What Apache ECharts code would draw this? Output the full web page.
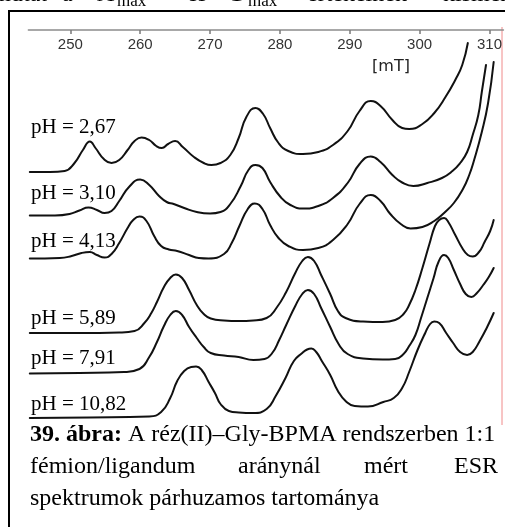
<!DOCTYPE html>
<html><head><meta charset="utf-8">
<script src="https://cdn.jsdelivr.net/npm/echarts@6/dist/echarts.min.js"></script>
<style>html,body{margin:0;padding:0;background:#fff}#c{width:505px;height:527px}</style>
</head><body><div id="c"></div>
<script>
// ---- data (magnetic field in mT, relative ESR intensity in arbitrary units) ----
const tickValues = [250, 260, 270, 280, 290, 300, 310];
const phLabels = ['pH = 2,67', 'pH = 3,10', 'pH = 4,13', 'pH = 5,89', 'pH = 7,91', 'pH = 10,82'];
const offsets = [355, 311.5, 268.5, 194, 153.5, 109];

const field267 = [244.2,247.1,249.2,250.6,251.8,252.8,253.6,254.8,255.9,257.0,258.2,259.2,260.2,261.3,262.3,263.1,264.0,265.0,266.1,267.7,269.1,270.2,271.5,272.9,274.1,275.2,276.5,277.6,278.6,279.8,281.2,283.3,285.5,287.6,289.7,291.4,293.0,294.4,296.1,297.5,298.5,300.4,302.1,303.7,305.1,306.1,306.9];
const int267 = [0,0,1,9,22,30.5,24,13,9,12,22,31,34.5,32,26,24,28,31,25,15,9,7,9,17,34,55,64,58,44,29,21,18,20,27,41,61,71,66,52,44,43,48,59,75,92,107,129];

const field310 = [244.2,247.8,249.9,251.3,252.6,253.8,254.9,255.9,257.0,258.4,260.0,261.3,262.7,263.8,264.8,266.3,268.1,270.0,271.5,272.9,274.4,275.5,276.5,277.5,278.6,280.1,281.5,283.3,285.5,287.6,289.7,291.4,293.0,294.4,296.1,297.5,299.1,301.1,303.2,304.7,305.8,306.8,307.6,308.4,308.9,309.5];
const int310 = [0,0,1.5,5,8,5.5,2.5,4.5,14.5,28.5,36,30.5,19.5,13.5,11.5,7.5,3.5,2,3.5,11.5,29.5,45.5,50.5,47.5,33.5,18.5,10.5,7,9.5,17.5,32.5,51.5,59,53.5,40.5,33,29.5,32.5,37.5,44.5,52.5,63.5,80.5,100.5,123.5,150.5];

const field413 = [244.2,248.5,250.2,251.6,252.8,253.8,254.9,255.9,257.0,258.2,259.0,259.9,260.9,262.0,263.0,264.1,265.3,267.0,268.4,269.8,272.0,273.1,274.2,275.4,276.4,277.5,278.6,279.8,281.2,283.3,285.5,287.6,289.7,291.4,293.0,294.4,295.8,297.3,298.7,300.4,302.1,303.5,304.9,306.2,307.1,307.8,308.9,309.8,310.6];
const int413 = [0,0.5,2.5,5.5,6.5,3.5,1,4.5,15.5,30.5,38.5,42,37.5,22.5,12.5,9,7.5,3.5,0.5,0,4.5,15.5,32.5,49.5,55,49.5,33.5,20.5,12.5,8.5,10.5,18.5,34.5,54.5,63.5,57.5,44.5,34.5,30,31.5,37.5,45.5,55.5,69.5,83.5,98.5,126.5,155.5,196.5];

const field589 = [244.2,251.3,257.0,259.2,260.6,261.6,262.4,263.4,264.3,265.1,266.0,267.0,268.1,269.1,270.1,272.0,274.1,276.2,278.1,279.5,280.9,282.2,283.2,284.0,284.9,285.9,287.2,288.3,289.4,291.9,294.7,296.5,297.7,298.5,299.4,300.4,301.4,302.2,302.8,303.5,304.1,305.1,306.1,306.9,307.6,308.5,309.3,310.1,310.6];
const int589 = [0,0,0.5,2,10,20,31,46,55,58.5,55,43,28,19,14.5,12.5,12,12.5,15,25,41,60,72,76,72,58,39,22,15,11.5,11,13,19,28,43,65,89,107,113,115,111,98,85,78,76.5,81,91,102,113];

const field791 = [244.2,251.3,257.7,259.9,261.3,262.4,263.4,264.3,265.1,266.0,267.0,268.1,269.1,270.1,272.0,274.1,276.2,277.8,278.9,279.9,280.9,282.2,283.2,284.0,284.9,285.9,287.2,288.4,289.7,291.9,294.7,296.5,297.7,298.5,299.4,300.2,301.1,302.0,302.7,303.5,304.1,304.9,305.8,306.6,307.4,308.2,309.1,309.9,310.6];
const int791 = [0,0.5,1.5,4.5,16.5,31.5,47.5,58.5,62.5,58.5,46.5,35.5,26.5,20.5,18,16.5,13.5,14.5,20.5,33.5,48.5,67.5,79.5,83.5,79.5,65.5,46.5,29.5,19.5,15,14,14.5,19.5,27.5,38.5,55.5,75.5,95.5,111.5,118.5,115.5,103.5,89.5,79.5,76.5,80.5,88.5,96.5,105.5];

const field1082 = [244.2,252.8,261.3,263.0,264.3,265.3,266.3,267.3,268.0,268.8,269.8,270.7,271.5,272.7,274.1,276.2,278.1,279.4,280.8,282.0,283.2,283.9,284.5,285.2,286.0,287.2,288.3,289.4,290.7,292.6,294.8,296.3,297.5,298.5,299.7,300.8,301.5,302.1,302.8,303.8,304.8,305.8,306.8,307.6,308.6,309.6,310.6];
const int1082 = [0,0.5,1.5,6,20,37,47,51,51.5,48,36,25,14,7,5.5,5,9,22,40,57,65,68.5,69.5,66,57,43,27,17,12,11.5,16,20,30,46,68,85,94,96.5,95,85,75,66,63,66,77,90,105];

const spectra = [
  [field267, int267], [field310, int310], [field413, int413],
  [field589, int589], [field791, int791], [field1082, int1082]
];

// ---- chart ----
const chart = echarts.init(document.getElementById('c'), null, {renderer: 'canvas'});
const serif = '"Liberation Serif", "Times New Roman", serif';
const labelMids = [127.9, 193.9, 241, 318, 358, 404.6];

const graphics = [
  {type: 'polyline', shape: {points: [[9, 530], [9, 11], [510, 11]]}, style: {stroke: '#000', lineWidth: 2, fill: null}, silent: true},
  {type: 'line', shape: {x1: 502, y1: 27, x2: 502, y2: 425}, style: {stroke: '#f08a8a', lineWidth: 1}, silent: true},
  {type: 'text', x: 391, y: 67, style: {text: '[mT]', fontSize: 16, fontFamily: '"DejaVu Sans", sans-serif', fill: '#222', align: 'center', verticalAlign: 'middle'}, silent: true}
];
phLabels.forEach((t, k) => {
  graphics.push({type: 'text', x: 31, y: labelMids[k], style: {text: t, fontSize: 21, fontFamily: serif, fill: '#000', align: 'left', verticalAlign: 'middle'}, silent: true});
});
// caption
graphics.push({type: 'text', x: 30, y: 435.2, style: {text: '{b|39. ábra:} A réz(II)–Gly-BPMA rendszerben 1:1', fontSize: 24, fontFamily: serif, fill: '#000', align: 'left', verticalAlign: 'middle', rich: {b: {fontWeight: 'bold', fontSize: 24, fontFamily: serif}}}, silent: true});
[['fémion/ligandum', 30, 'left'], ['aránynál', 238, 'left'], ['mért', 364, 'left'], ['ESR', 498, 'right']].forEach(w => {
  graphics.push({type: 'text', x: w[1], y: 466.9, style: {text: w[0], fontSize: 24, fontFamily: serif, fill: '#000', align: w[2], verticalAlign: 'middle'}, silent: true});
});
graphics.push({type: 'text', x: 30, y: 498.6, style: {text: 'spektrumok párhuzamos tartománya', fontSize: 24, fontFamily: serif, fill: '#000', align: 'left', verticalAlign: 'middle'}, silent: true});
// preceding paragraph line (cut off by the top edge)
[['mutat', 47, 'right'], ['a', 62, 'left'], ['A', 97, 'left'], ['és', 187, 'left'], ['G', 227, 'left'], ['értékeinek', 307, 'left'], ['kismértékű', 443, 'left']].forEach(w => {
  graphics.push({type: 'text', x: w[1], y: -5, style: {text: w[0], fontSize: 24, fontFamily: serif, fill: '#000', align: w[2], verticalAlign: 'middle'}, silent: true});
});
[117, 248].forEach(x => {
  graphics.push({type: 'text', x: x, y: 2, style: {text: 'max', fontSize: 17, fontFamily: serif, fill: '#000', align: 'left', verticalAlign: 'middle'}, silent: true});
});

const option = {
  animation: false,
  backgroundColor: '#fff',
  grid: {left: 28.4, top: 30, width: 478.3, height: 497, containLabel: false},
  xAxis: {
    type: 'value', position: 'top', min: 244, max: 312,
    axisLine: {show: true, onZero: false, lineStyle: {color: '#8c8c8c', width: 1.5}},
    axisTick: {show: true, inside: true, length: 4, customValues: tickValues, lineStyle: {color: '#7a7a7a', width: 1.5}},
    axisLabel: {show: true, inside: true, margin: 7, customValues: tickValues, fontSize: 15, fontFamily: '"Liberation Sans", Arial, sans-serif', color: '#333'},
    splitLine: {show: false}
  },
  yAxis: {type: 'value', min: 0, max: 497, show: false},
  series: spectra.map((s, k) => ({
    type: 'line',
    name: phLabels[k],
    data: s[0].map((f, i) => [f, offsets[k] + s[1][i]]),
    smooth: 0.5,
    symbol: 'none',
    clip: false,
    silent: true,
    lineStyle: {color: '#111', width: 2, join: 'round', cap: 'round'}
  })),
  graphic: graphics
};
chart.setOption(option);
</script>
</body></html>
